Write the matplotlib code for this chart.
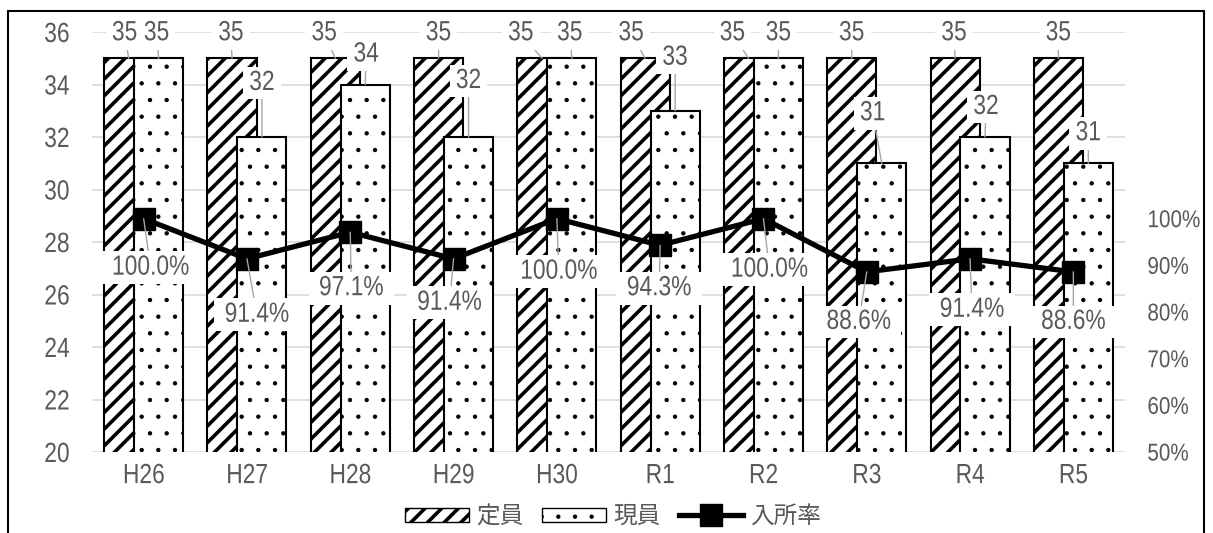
import matplotlib
matplotlib.use('Agg')
import matplotlib.pyplot as plt
import numpy as np
from matplotlib import patheffects
from matplotlib.patches import Rectangle, Patch
from matplotlib.lines import Line2D
from matplotlib.ticker import FuncFormatter
from matplotlib.transforms import Affine2D

# 年度ごとの定員・現員・入所率
years = ['H26', 'H27', 'H28', 'H29', 'H30', 'R1', 'R2', 'R3', 'R4', 'R5']
capacity = [35, 35, 35, 35, 35, 35, 35, 35, 35, 35]
current = [35, 32, 34, 32, 35, 33, 35, 31, 32, 31]
rate = [1.000, 0.914, 0.971, 0.914, 1.000, 0.943, 1.000, 0.886, 0.914, 0.886]

# data label placement (pixel offsets from bar top / marker)
cap_offsets = [(-4, 25), (-1, 25), (-11, 25), (0, 25), (-21, 25),
               (-14, 25), (-16, 25), (0, 25), (-1, 25), (0, 25)]
cur_offsets = [(-2, 25), (0, 54), (1, 30), (0, 56), (-2, 25),
               (0, 53), (0, 25), (-9, 50), (1, 30), (0, 30)]
rate_offsets = [(7, -49), (10, -56), (1, -56), (-4, -44), (2, -53),
                (-1, -43), (6, -51), (-8, -50), (2, -51), (0, -50)]

plt.rcParams['font.family'] = ['Liberation Sans', 'Noto Sans CJK JP', 'DejaVu Sans']

TXT = '#595959'
FS = 20
HATCH_LW = 2.6
DOT_LW = 0.7


class Narrow(patheffects.AbstractPathEffect):
    """Squeeze text glyphs horizontally to get a condensed look."""

    def __init__(self, sx=0.82, anchor='center'):
        super().__init__()
        self.sx = sx
        self.anchor = anchor

    def draw_path(self, renderer, gc, tpath, affine, rgbFace=None):
        ext = tpath.get_extents(affine)
        ax0 = {'left': ext.x0, 'right': ext.x1}.get(self.anchor, (ext.x0 + ext.x1) / 2)
        squeeze = Affine2D().translate(-ax0, 0).scale(self.sx, 1).translate(ax0, 0)
        renderer.draw_path(gc, tpath, affine + squeeze, rgbFace)


fig = plt.figure(figsize=(12.13, 5.33), dpi=100)
ax = fig.add_axes([92 / 1213, 81 / 533, 1033 / 1213, 420 / 533])

x = np.arange(len(years))
w = 0.475
off = 0.145

plt.rcParams['hatch.linewidth'] = HATCH_LW
cap_bars = ax.bar(x - off, capacity, width=w, color='white', edgecolor='black',
                  hatch='//', linewidth=1.5, zorder=2, label='定員')
plt.rcParams['hatch.linewidth'] = DOT_LW
cur_bars = ax.bar(x + off, current, width=w, color='white', edgecolor='black',
                  hatch='.', linewidth=1.5, zorder=2, label='現員')
for bars, lw in ((cap_bars, HATCH_LW), (cur_bars, DOT_LW)):
    for b in bars:
        if hasattr(b, 'set_hatch_linewidth'):
            b.set_hatch_linewidth(lw)

ax.set_xlim(-0.5, len(years) - 0.5)
ax.set_ylim(20, 36)
ax.set_yticks(np.arange(20, 37, 2))
ax.set_xticks(x)
ax.set_xticklabels(years)
ax.yaxis.grid(True, color='#d9d9d9', linewidth=1.2)
ax.set_axisbelow(True)
ax.tick_params(axis='y', length=0, pad=16, labelsize=FS, labelcolor=TXT)
ax.tick_params(axis='x', length=0, pad=8, labelsize=FS, labelcolor=TXT)
for s in ax.spines.values():
    s.set_visible(False)

ax2 = ax.twinx()
ax2.set_ylim(0.5, 1.4)
ax2.set_yticks(np.arange(0.5, 1.01, 0.1))
ax2.yaxis.set_major_formatter(FuncFormatter(lambda v, p: f'{v * 100:.0f}%'))
ax2.tick_params(axis='y', length=0, pad=16, labelsize=17.5, labelcolor=TXT)
for s in ax2.spines.values():
    s.set_visible(False)
ax2.plot(x, rate, color='black', linewidth=3.8, marker='s', markersize=16,
         zorder=3, label='入所率')

for lbl in ax.get_yticklabels():
    lbl.set_path_effects([Narrow(anchor='right')])
for lbl in ax.get_xticklabels():
    lbl.set_path_effects([Narrow()])
for lbl in ax2.get_yticklabels():
    lbl.set_path_effects([Narrow(sx=0.85, anchor='left')])

box = dict(boxstyle='square,pad=0.12', fc='white', ec='none')
leader = dict(arrowstyle='-', color='#a6a6a6', linewidth=1.0, shrinkA=0, shrinkB=0)


def put_label(axis, text, xy, dxy):
    axis.annotate(text, xy=xy, xytext=dxy, textcoords='offset pixels',
                  ha='center', va='center', fontsize=FS, color=TXT,
                  bbox=box, arrowprops=leader, zorder=5, annotation_clip=False,
                  path_effects=[Narrow()])


for i in range(len(years)):
    put_label(ax, f'{capacity[i]}', (x[i] - off, capacity[i]), cap_offsets[i])
    put_label(ax, f'{current[i]}', (x[i] + off, current[i]), cur_offsets[i])
    put_label(ax2, f'{rate[i] * 100:.1f}%', (x[i], rate[i]), rate_offsets[i])

handles = [Patch(facecolor='white', edgecolor='black', hatch='//', label='定員'),
           Patch(facecolor='white', edgecolor='black', hatch='.', label='現員'),
           Line2D([], [], color='black', linewidth=3.8, marker='s', markersize=16,
                  label='入所率')]
leg = fig.legend(handles=handles, loc='center', bbox_to_anchor=(613 / 1213, 1 - 517 / 533),
                 ncol=3, frameon=False, fontsize=17, labelcolor=TXT, handlelength=2.7,
                 handleheight=0.55, columnspacing=0.8, handletextpad=0.3)
for h, lw in zip(leg.legend_handles[:2], (HATCH_LW, DOT_LW)):
    if hasattr(h, 'set_hatch_linewidth'):
        h.set_hatch_linewidth(lw)

fig.add_artist(Rectangle((8 / 1213, -0.1), 1196 / 1213, 522 / 533 + 0.1,
                         transform=fig.transFigure, fill=False, edgecolor='black',
                         linewidth=1.5, clip_on=False))

fig.savefig('out.png', dpi=100)
